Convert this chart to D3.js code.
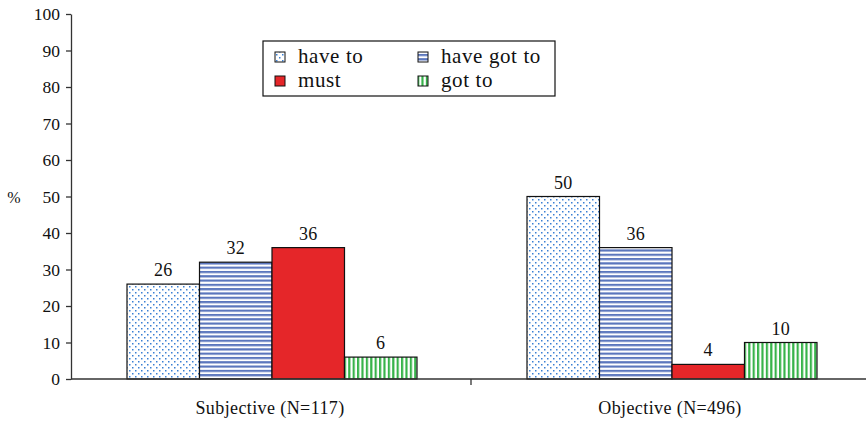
<!DOCTYPE html>
<html>
<head>
<meta charset="utf-8">
<script src="https://cdn.jsdelivr.net/npm/d3@7"></script>
<style>
  html, body { margin: 0; padding: 0; background: #fff; }
  svg { display: block; font-family: "Liberation Serif", "DejaVu Serif", serif; }
</style>
</head>
<body>
<svg id="chart" width="866" height="422"></svg>
<script>
// Groups along the x axis
const categories = ["Subjective (N=117)", "Objective (N=496)"];
// Modal forms, in legend / bar order
const seriesNames = ["have to", "have got to", "must", "got to"];
// Percentages per group, one array per form
const haveTo    = [26, 50];
const haveGotTo = [32, 36];
const must      = [36, 4];
const gotTo     = [6, 10];
const yTicks = [0, 10, 20, 30, 40, 50, 60, 70, 80, 90, 100];

const seriesValues = [haveTo, haveGotTo, must, gotTo];

const svg = d3.select("#chart");

const x0 = d3.scaleBand().domain(categories).range([71, 871]).paddingInner(0).paddingOuter(0);
const x1 = d3.scaleBand().domain(seriesNames).range([56, 346]).padding(0);
const y = d3.scaleLinear().domain([0, 100]).range([379, 14]);

// Fill patterns
const defs = svg.append("defs");
const dots = defs.append("pattern").attr("id", "p-dots").attr("patternUnits", "userSpaceOnUse")
  .attr("width", 6).attr("height", 6);
dots.append("rect").attr("width", 6).attr("height", 6).attr("fill", "#fff");
dots.append("rect").attr("x", 1).attr("y", 1).attr("width", 1.5).attr("height", 1.5).attr("fill", "#3a7fd4");
dots.append("rect").attr("x", 4).attr("y", 4).attr("width", 1.5).attr("height", 1.5).attr("fill", "#3a7fd4");

const hstripe = defs.append("pattern").attr("id", "p-hstripe").attr("patternUnits", "userSpaceOnUse")
  .attr("width", 8).attr("height", 4.3);
hstripe.append("rect").attr("width", 8).attr("height", 4.3).attr("fill", "#fff");
hstripe.append("rect").attr("y", 0).attr("width", 8).attr("height", 2.2).attr("fill", "#5b76bd");

const vstripe = defs.append("pattern").attr("id", "p-vstripe").attr("patternUnits", "userSpaceOnUse")
  .attr("width", 4.4).attr("height", 8);
vstripe.append("rect").attr("width", 4.4).attr("height", 8).attr("fill", "#fff");
vstripe.append("rect").attr("x", 0).attr("width", 2.2).attr("height", 8).attr("fill", "#37b34a");

const fills = ["url(#p-dots)", "url(#p-hstripe)", "#e52629", "url(#p-vstripe)"];

// Bars with value labels
categories.forEach((cat, ci) => {
  const g = svg.append("g").attr("transform", `translate(${x0(cat)},0)`);
  seriesNames.forEach((s, si) => {
    const v = seriesValues[si][ci];
    g.append("rect")
      .attr("x", x1(s)).attr("y", y(v))
      .attr("width", x1.bandwidth()).attr("height", y(0) - y(v))
      .attr("fill", fills[si]).attr("stroke", "#111").attr("stroke-width", 1.2);
    g.append("text")
      .attr("x", x1(s) + x1.bandwidth() / 2).attr("y", y(v) - 8)
      .attr("text-anchor", "middle").attr("font-size", 18).attr("fill", "#111")
      .attr("letter-spacing", 0.3)
      .text(v);
  });
});

// Y axis
const yAxis = svg.append("g").attr("transform", "translate(71,0)")
  .call(d3.axisLeft(y).tickValues(yTicks).tickSize(5).tickSizeOuter(0));
yAxis.select(".domain").attr("stroke", "#333").attr("stroke-width", 1.3);
yAxis.selectAll(".tick line").attr("stroke", "#333").attr("stroke-width", 1.3);
yAxis.selectAll(".tick text").attr("font-size", 17.5).attr("fill", "#111")
  .attr("font-family", "Liberation Serif, DejaVu Serif, serif").attr("x", -11);

// X axis
const xAxis = svg.append("g").attr("transform", "translate(0,379)");
xAxis.append("line").attr("x1", 71).attr("x2", 866).attr("y1", 0).attr("y2", 0)
  .attr("stroke", "#333").attr("stroke-width", 1.3);
xAxis.append("line").attr("x1", x0(categories[1])).attr("x2", x0(categories[1]))
  .attr("y1", 0).attr("y2", 6).attr("stroke", "#333").attr("stroke-width", 1.3);
categories.forEach(cat => {
  xAxis.append("text").attr("x", x0(cat) + x0.bandwidth() / 2 - 1).attr("y", 35)
    .attr("text-anchor", "middle").attr("font-size", 18).attr("letter-spacing", 0.4)
    .attr("fill", "#111").text(cat);
});

// Y axis title
svg.append("text").attr("x", 14).attr("y", 203).attr("text-anchor", "middle")
  .attr("font-size", 16).attr("fill", "#111").text("%");

// Legend
const legend = svg.append("g").attr("transform", "translate(263,41)");
legend.append("rect").attr("width", 292).attr("height", 55)
  .attr("fill", "#fff").attr("stroke", "#111").attr("stroke-width", 1.2);
seriesNames.forEach((s, i) => {
  const col = i % 2, row = Math.floor(i / 2);
  const lx = 12 + col * 143, ly = 11 + row * 24;
  legend.append("rect").attr("x", lx).attr("y", ly).attr("width", 10).attr("height", 10)
    .attr("fill", fills[i]).attr("stroke", "#111").attr("stroke-width", 1);
  legend.append("text").attr("x", lx + 23).attr("y", ly + 11)
    .attr("font-size", 21).attr("letter-spacing", 0.6).attr("fill", "#111").text(s);
});
</script>
</body>
</html>
